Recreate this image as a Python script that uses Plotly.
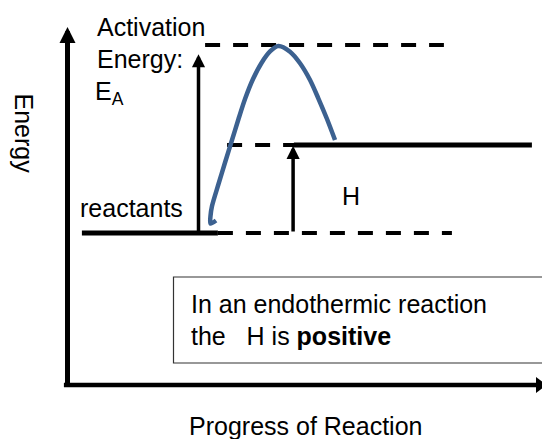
import plotly.graph_objects as go

# ---- data (energy levels in arbitrary units, progress in arbitrary units) ----
E_REACTANTS = 38
E_PRODUCTS = 60
E_PEAK = 85

reactant_level_progress = [3.6, 37.6]
product_level_progress = [56.6, 116.1]
reactant_dash_progress = [37.6, 96.1]
product_dash_progress = [39.9, 71.9]
peak_dash_progress = [34.4, 94.1]

path_progress = [37.13, 35.75, 35.75, 36.13, 37.75, 39.5, 41.13, 42.75, 44.38, 46.38,
                 48.5, 50.63, 52.7, 55.63, 58.13, 60.63, 62.7, 64.8, 66.88]
path_energy = [41.13, 40.38, 42.25, 44.75, 50.25, 56.0, 61.25, 66.5, 71.5, 76.5,
               80.5, 83.38, 84.75, 83.33, 80.43, 76.25, 71.68, 66.68, 61.25]

ea_arrow_progress = 32.75
dh_arrow_progress = 56.4
axis_energy_top = 89.5
axis_progress_end = 118.0
axis_progress_start = -0.9

X_RANGE = [-16.875, 118.625]
Y_RANGE = [-13.5, 96.25]

FONT = "Liberation Sans, Arial, sans-serif"
FS = 25
CURVE = "#3C6190"

fig = go.Figure()

def hline(xs, y, width, dash=None, color="black"):
    fig.add_trace(go.Scatter(x=xs, y=[y, y], mode="lines",
                             line=dict(color=color, width=width, dash=dash),
                             hoverinfo="skip", showlegend=False))

DASH = "15px,13px"
# dashed guide lines
hline(reactant_dash_progress, E_REACTANTS, 4, DASH)
hline(product_dash_progress, E_PRODUCTS, 4, DASH)
hline(peak_dash_progress, E_PEAK, 4, DASH)
# solid levels
hline(reactant_level_progress, E_REACTANTS, 5)
hline(product_level_progress, E_PRODUCTS, 5)

# axes lines
fig.add_trace(go.Scatter(x=[0, 0], y=[0, axis_energy_top - 3], mode="lines",
                         line=dict(color="black", width=5), showlegend=False, hoverinfo="skip"))
fig.add_trace(go.Scatter(x=[axis_progress_start, axis_progress_end], y=[0, 0], mode="lines",
                         line=dict(color="black", width=4.5), showlegend=False, hoverinfo="skip"))
fig.add_trace(go.Scatter(x=[axis_progress_end], y=[0], mode="markers",
                         marker=dict(symbol="triangle-right", size=14, color="black"),
                         showlegend=False, hoverinfo="skip"))

# reaction path
fig.add_trace(go.Scatter(x=path_progress, y=path_energy, mode="lines",
                         line=dict(color=CURVE, width=4.5, shape="spline", smoothing=0.8),
                         showlegend=False, hoverinfo="skip"))

# box
fig.add_shape(type="rect", x0=26.5, x1=130, y0=5.5, y1=27, xref="x", yref="y",
              line=dict(color="#333333", width=1.2), fillcolor="rgba(0,0,0,0)")

anns = []
def arrow(x, y_tip, y_tail, width, size):
    anns.append(dict(x=x, y=y_tip, ax=x, ay=y_tail, xref="x", yref="y", axref="x", ayref="y",
                     text="", showarrow=True, arrowhead=2, arrowsize=size, arrowwidth=width,
                     arrowcolor="black", standoff=0))

arrow(0, axis_energy_top, 0, 5, 0.64)
arrow(ea_arrow_progress, E_PEAK - 2.3, E_REACTANTS, 3.5, 0.75)
arrow(dh_arrow_progress, E_PRODUCTS - 0.2, E_REACTANTS, 3.5, 0.75)

def text(x, y, t, xanchor="left", angle=0, size=FS):
    anns.append(dict(x=x, y=y, xref="x", yref="y", text=t, showarrow=False,
                     xanchor=xanchor, yanchor="middle", textangle=angle,
                     font=dict(family=FONT, size=size, color="black")))

text(6.8, 89.44, "Activation")
text(6.8, 81.44, "Energy:")
text(6.4, 73.0, "E<sub>A</sub>")
text(2.6, 44.2, "reactants")
text(70.9, 47.2, "H", xanchor="center")
text(-10.8, 62.8, "Energy", xanchor="center", angle=90)
text(59.4, -10.3, "Progress of Reaction", xanchor="center")
text(30.4, 20.2, "In an endothermic reaction")
text(30.4, 12.2, "the\u00a0\u00a0\u00a0H is <b>positive</b>")

fig.update_layout(
    width=542, height=439, autosize=False,
    margin=dict(l=0, r=0, t=0, b=0, pad=0),
    paper_bgcolor="white", plot_bgcolor="white",
    xaxis=dict(range=X_RANGE, visible=False, fixedrange=True),
    yaxis=dict(range=Y_RANGE, visible=False, fixedrange=True),
    annotations=anns,
    showlegend=False,
)

fig.write_html("out.html", config={"displayModeBar": False, "staticPlot": True},
               post_script="document.body.style.margin='0';document.body.style.overflow='hidden';")
